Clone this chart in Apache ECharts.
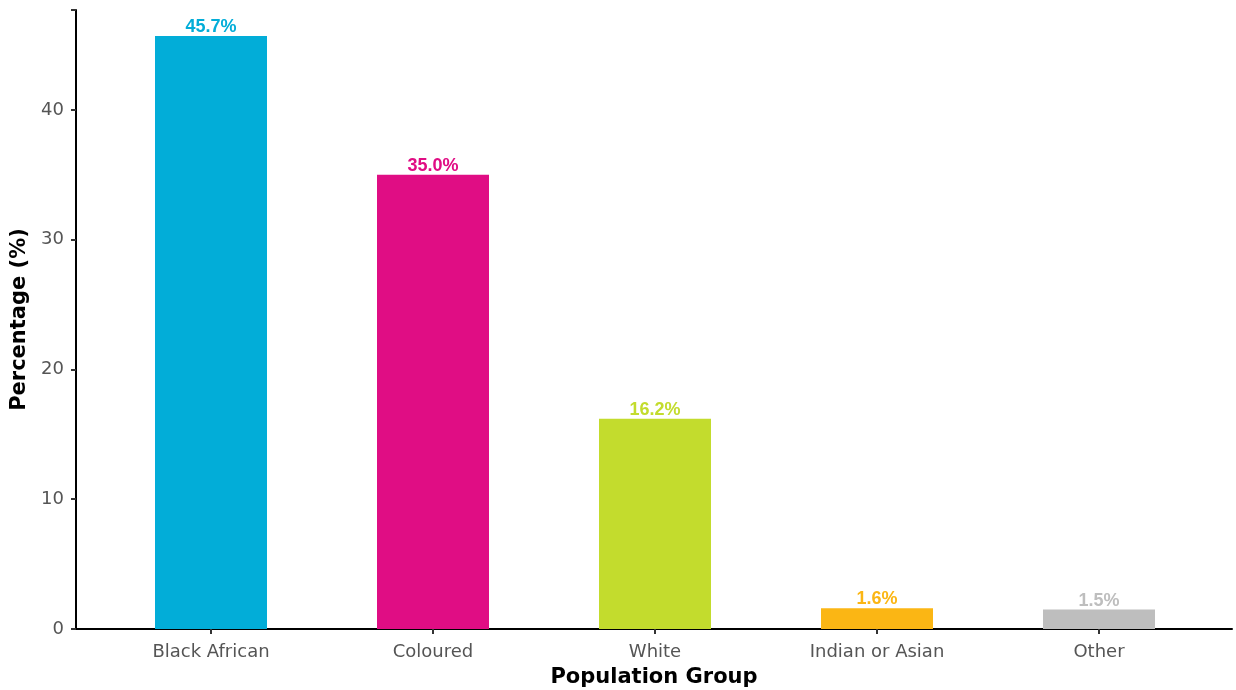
<!DOCTYPE html>
<html>
<head>
<meta charset="utf-8">
<script src="https://cdn.jsdelivr.net/npm/echarts@6/dist/echarts.min.js"></script>
<style>html,body{margin:0;padding:0;background:#fff}#c{width:1236px;height:690px}</style>
</head>
<body>
<div id="c"></div>
<script>
const categories = ['Black African', 'Coloured', 'White', 'Indian or Asian', 'Other'];
const values = [45.7, 35.0, 16.2, 1.6, 1.5];
const colors = ['#02ADD8', '#E00D84', '#C3DC2D', '#FBB614', '#BEBEBE'];
const yTicks = [0, 10, 20, 30, 40];

const chart = echarts.init(document.getElementById('c'), null, {renderer: 'canvas'});
const tickFont = "'DejaVu Sans', sans-serif";
const yMax = 47.7;
chart.setOption({
  animation: false,
  grid: [
    {left: 100, right: 26, top: 10, bottom: 61, containLabel: false, outerBoundsMode: 'none'},
    {left: 76, right: 4, top: 10, bottom: 61, containLabel: false, outerBoundsMode: 'none'}
  ],
  xAxis: [
    {
      type: 'category', gridIndex: 0, data: categories,
      axisLine: {show: false},
      axisTick: {show: true, alignWithLabel: true, length: 5, lineStyle: {color: '#333', width: 2}},
      axisLabel: {color: '#555555', fontSize: 18, fontFamily: tickFont, margin: 14},
      splitLine: {show: false}
    },
    {
      type: 'value', gridIndex: 1, min: 0, max: 1,
      axisLine: {show: true, onZero: false, lineStyle: {color: '#000', width: 2}},
      axisTick: {show: false}, axisLabel: {show: false}, splitLine: {show: false},
      name: 'Population Group', nameLocation: 'middle', nameGap: 38,
      nameTextStyle: {color: '#000', fontSize: 21, fontWeight: 'bold', fontFamily: tickFont}
    }
  ],
  yAxis: [
    {
      type: 'value', gridIndex: 0, min: 0, max: yMax, show: false
    },
    {
      type: 'value', gridIndex: 1, min: 0, max: yMax, interval: 10,
      axisLine: {show: true, lineStyle: {color: '#000', width: 2}},
      axisTick: {show: true, length: 5, lineStyle: {color: '#333', width: 2}},
      axisLabel: {color: '#555555', fontSize: 18, fontFamily: tickFont, margin: 12,
        formatter: v => yTicks.includes(v) ? String(v) : ''},
      splitLine: {show: false},
      name: 'Percentage (%)', nameLocation: 'middle', nameGap: 38,
      nameTextStyle: {color: '#000', fontSize: 21, fontWeight: 'bold', fontFamily: tickFont}
    }
  ],
  series: [{
    type: 'bar', xAxisIndex: 0, yAxisIndex: 0,
    barWidth: 112,
    data: values.map((v, i) => ({value: v, itemStyle: {color: colors[i]},
      label: {color: colors[i]}})),
    label: {
      show: true, position: 'top', distance: 0,
      fontFamily: "'Liberation Sans', Arial, sans-serif", fontWeight: 'bold', fontSize: 18,
      formatter: p => p.value.toFixed(1) + '%'
    }
  }]
});
</script>
</body>
</html>
